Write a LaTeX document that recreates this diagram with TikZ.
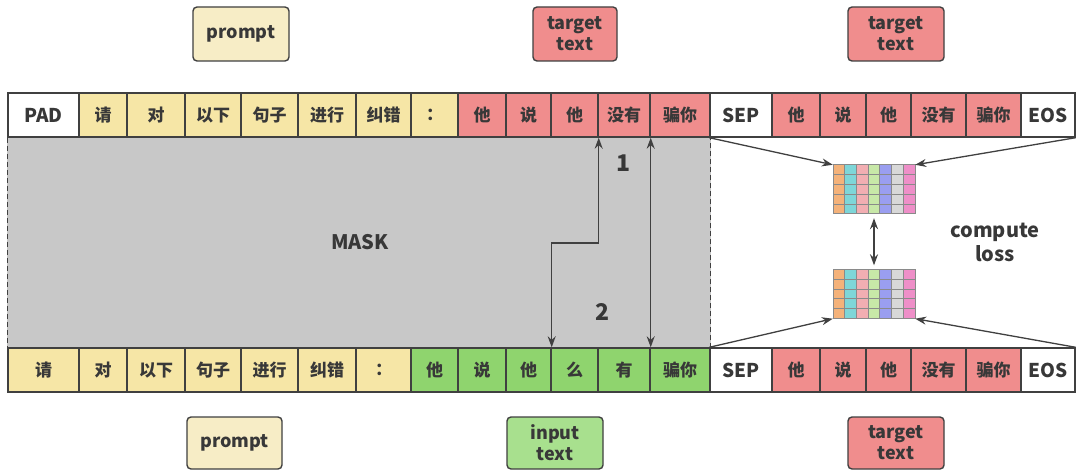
\documentclass[tikz,border=0pt]{standalone}
\usepackage{fontspec}
\setmainfont{Noto Sans CJK SC}
\usetikzlibrary{arrows.meta}
\definecolor{yel}{HTML}{F6E6A6}
\definecolor{yellab}{HTML}{F7EDC6}
\definecolor{red}{HTML}{F08D8D}
\definecolor{grn}{HTML}{8FD46E}
\definecolor{grnlab}{HTML}{A8E08E}
\definecolor{maskc}{HTML}{C8C8C8}
\definecolor{linec}{HTML}{404040}
\definecolor{txt}{HTML}{383838}
\definecolor{gridc}{HTML}{8A8A8A}
\definecolor{c1}{HTML}{F4B27A}
\definecolor{c2}{HTML}{7ED6D8}
\definecolor{c3}{HTML}{F2AEB2}
\definecolor{c4}{HTML}{C8E8A8}
\definecolor{c5}{HTML}{9A9EF0}
\definecolor{c6}{HTML}{D8D8D8}
\definecolor{c7}{HTML}{EE8FC8}
\newcommand{\cellfont}{\bfseries\fontsize{17}{20}\selectfont}
\newcommand{\latcell}{\fontsize{19}{20}\selectfont}
\newcommand{\labfont}{\bfseries\fontsize{18}{21}\selectfont}
\begin{document}
\begin{tikzpicture}[x=1pt,y=-1pt,
  cell/.style={draw=linec, line width=1.4pt, minimum height=44pt, inner sep=0pt, font=\cellfont, text=txt},
  lab/.style={draw=linec, line width=1.4pt, rounded corners=4pt, align=center, inner sep=0pt, font=\labfont, text=txt},
  arr/.style={draw=linec, line width=1.3pt, -{Stealth[length=11pt,width=8pt]}},
  dbl/.style={draw=linec, line width=1.3pt, {Stealth[length=11pt,width=8pt]}-{Stealth[length=11pt,width=8pt]}},
  big/.style={font=\bfseries\fontsize{23}{26}\selectfont, text=txt},
]
\useasboundingbox (0,0) rectangle (1078,470);
\fill[white] (0,0) rectangle (1078,470);

% top row
\foreach \a/\b/\t/\c [count=\i] in {8/79/{\latcell PAD}/white, 79/127/请/yel, 127/185/对/yel, 185/241/以下/yel, 241/298/句子/yel, 298/356/进行/yel, 356/411/纠错/yel, 411/458/：/yel, 458/506/他/red, 506/551/说/red, 551/598/他/red, 598/650/没有/red, 650/710/骗你/red, 710/772/{\latcell SEP}/white, 772/820/他/red, 820/866/说/red, 866/911/他/red, 911/966/没有/red, 966/1021/骗你/red, 1021/1075/{\latcell EOS}/white}
  \node[cell, fill=\c, minimum width={(\b-\a)*1pt}] (t\i) at ({(\a+\b)/2},115) {\t};

% bottom row
\foreach \a/\b/\t/\c [count=\i] in {8/79/请/yel, 79/127/对/yel, 127/185/以下/yel, 185/241/句子/yel, 241/298/进行/yel, 298/356/纠错/yel, 356/411/：/yel, 411/458/他/grn, 458/506/说/grn, 506/551/他/grn, 551/598/么/grn, 598/650/有/grn, 650/710/骗你/grn, 710/772/{\latcell SEP}/white, 772/820/他/red, 820/866/说/red, 866/911/他/red, 911/966/没有/red, 966/1021/骗你/red, 1021/1075/{\latcell EOS}/white}
  \node[cell, fill=\c, minimum width={(\b-\a)*1pt}] (b\i) at ({(\a+\b)/2},370) {\t};

% mask
\filldraw[fill=maskc, draw=linec, line width=1.3pt, dash pattern=on 5pt off 3pt] (t1.south west) rectangle (b13.north east);
\node[font=\bfseries\fontsize{20}{22}\selectfont, text=txt] (mask) at (360,242) {MASK};

% arrows in mask
\draw[dbl] (t11.south east) -- (t11.south east |- 0,243) -| (b10.north east);
\draw[dbl] (t12.south east) -- (t12.south east |- b12.north);
\node[big] (n1) at (623,163) {1};
\node[big] (n2) at (602,312) {2};

% grids
\node[minimum width=82pt, minimum height=49pt, inner sep=0pt] (g1) at (874,189.5) {};
\node[minimum width=82pt, minimum height=49pt, inner sep=0pt] (g2) at (874,294) {};
\foreach \g in {g1,g2}
  \foreach \c [count=\j from 0] in {c1,c2,c3,c4,c5,c6,c7}
    \foreach \r in {0,...,4}
      \draw[fill=\c, draw=gridc, line width=0.6pt] ([shift={(\j*82/7,\r*9.8)}]\g.north west) rectangle ++(82/7,9.8);

\draw[arr] (t14.south west) -- (g1.north west);
\draw[arr] (t20.south east) -- (g1.north east);
\draw[arr] (b14.north west) -- (g2.south west);
\draw[arr] (b20.north east) -- (g2.south east);
\draw[dbl, shorten >=4pt, shorten <=4pt] (g1.south) -- (g2.north);
\node[font=\bfseries\fontsize{20}{24}\selectfont, text=txt, align=center] (cl) at (995,242) {compute\\loss};

% labels
\node[lab, fill=yellab, minimum width=96pt, minimum height=54pt] (lp1) at (241,34) {prompt};
\node[lab, fill=red, minimum width=84pt, minimum height=54pt] (lt1) at (575,34) {target\\text};
\node[lab, fill=red, minimum width=96pt, minimum height=54pt] (lt2) at (896,34) {target\\text};
\node[lab, fill=yellab, minimum width=95pt, minimum height=52pt] (lp2) at (234.5,443) {prompt};
\node[lab, fill=grnlab, minimum width=96pt, minimum height=52pt] (li) at (555,443) {input\\text};
\node[lab, fill=red, minimum width=96pt, minimum height=52pt] (lt3) at (896,443) {target\\text};
\end{tikzpicture}
\end{document}
